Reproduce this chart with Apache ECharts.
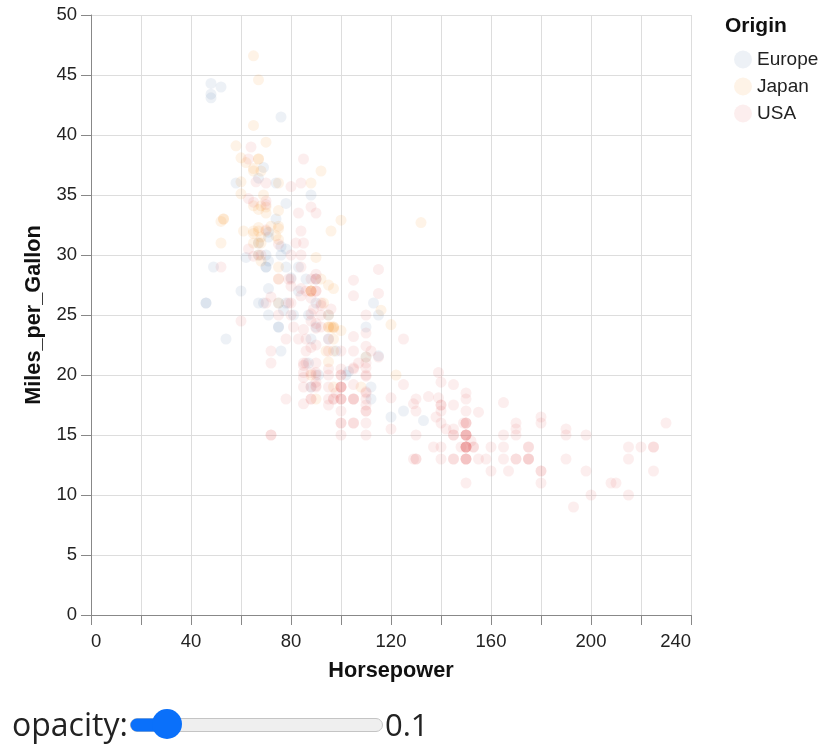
<!DOCTYPE html>
<html>
<head>
<meta charset="utf-8">
<script src="https://cdn.jsdelivr.net/npm/echarts@6/dist/echarts.min.js"></script>
<style>
  html, body { margin: 0; padding: 0; background: #fff; }
  #chart { width: 828px; height: 745px; }
</style>
</head>
<body>
<div id="chart"></div>
<script>
// [Horsepower, Miles_per_Gallon]
const europe = [
  [46,26],[87,25],[90,24],[95,25],[113,26],[90,28],[70,30],[76,30],[60,27],[54,23],
  [112,18],[76,22],[87,21],[69,26],[46,26],[90,26],[49,29],[75,24],[91,20],[112,19],
  [110,24],[83,29],[67,26],[78,26],[75,24],[75,26],[67,31],[71,25],[70,29],[95,23],
  [88,23],[98,22],[115,25],[86,28],[81,25],[83,27],[70,29],[71,29.5],[102,20],[88,19],
  [120,16.5],[58,36],[78,29],[78,30.5],[110,21.5],[48,43.1],[103,20.3],[125,17],[115,21.6],[133,16.2],
  [71,31.5],[71,31.9],[77,25.4],[71,27.2],[69,37.3],[76,41.5],[78,34.3],[48,44.3],[48,43.4],[67,36.4],
  [67,30],[62,29.8],[88,35],[74,33],[80,28.1],[76,30.7],[74,36],[52,44]
];
const japan = [
  [95,24],[88,27],[88,27],[95,25],[65,31],[69,35],[95,24],[97,19],[92,28],[97,23],
  [88,27],[88,20],[94,22],[90,18],[122,20],[67,31],[65,32],[52,31],[61,32],[97,24],
  [93,26],[75,29],[96,24],[97,24],[53,33],[53,33],[70,32],[75,28],[108,19],[68,31.5],
  [70,33.5],[75,26],[67,30],[97,22],[110,21.5],[52,32.8],[70,39.4],[60,36.1],[95,27.5],[97,27.2],
  [95,21.1],[97,23.9],[68,29.5],[65,34.1],[65,31.8],[60,38.1],[65,37.2],[90,29.8],[75,31.3],[92,37],
  [75,32.2],[65,46.6],[65,40.8],[67,44.6],[67,33.8],[132,32.7],[100,23.7],[72,32.4],[58,39.1],[60,35.1],
  [67,32.3],[65,37],[62,37.7],[68,34.1],[75,33.7],[75,32.4],[100,32.9],[74,31.6],[116,25.4],[120,24.2],
  [68,37],[68,31],[88,36],[75,36],[70,34],[67,38],[67,32],[67,38],[96,32]
];
const usa = [
  [130,18],[165,15],[150,18],[150,16],[140,17],[198,15],[220,14],[215,14],[225,14],[190,15],
  [170,15],[160,14],[150,15],[225,14],[95,22],[97,18],[85,21],[215,10],[200,10],[210,11],
  [193,9],[90,21],[90,28],[100,19],[105,16],[100,17],[88,19],[100,18],[165,14],[175,14],
  [153,14],[150,14],[180,12],[170,13],[175,13],[110,18],[72,22],[100,19],[88,18],[86,23],
  [70,26],[80,25],[90,20],[86,21],[165,13],[175,14],[150,15],[153,14],[150,17],[208,11],
  [155,13],[160,12],[190,13],[150,15],[130,13],[140,13],[150,14],[86,22],[80,28],[175,13],
  [150,14],[145,13],[137,14],[150,15],[198,12],[150,13],[158,13],[150,14],[215,13],[225,12],
  [175,13],[105,18],[100,16],[100,18],[88,18],[95,23],[150,11],[167,12],[170,13],[180,12],
  [100,18],[72,21],[85,19],[107,21],[145,15],[230,16],[150,15],[180,11],[95,20],[100,19],
  [100,15],[80,26],[75,25],[100,16],[110,16],[105,18],[140,16],[150,13],[150,14],[140,14],
  [150,14],[75,28],[95,19],[105,18],[72,15],[72,15],[170,16],[145,15],[150,16],[148,14],
  [110,17],[105,16],[110,15],[95,18],[110,21],[110,20],[129,13],[83,23],[100,20],[78,23],
  [97,18],[90,19],[92,25],[79,26],[140,17.5],[150,16],[120,15.5],[152,14.5],[100,22],[105,22],
  [81,24],[90,22.5],[52,29],[60,24.5],[100,20],[78,18],[110,18.5],[95,17.5],[72,26.5],[150,13],
  [180,16.5],[145,13],[130,13],[150,13],[80,30],[96,25.5],[145,17.5],[110,17],[145,15.5],[130,15],
  [110,17.5],[105,20.5],[100,19],[98,18.5],[180,16],[170,15.5],[190,15.5],[149,16],[88,24.5],[89,25.5],
  [63,30.5],[83,33.5],[66,36.1],[110,19.9],[140,19.4],[139,20.2],[105,19.2],[95,20.5],[85,20.2],[88,25.1],
  [100,20.5],[90,19.4],[105,20.6],[85,20.8],[110,18.6],[120,18.1],[145,19.2],[165,17.7],[139,18.1],[140,17.5],
  [68,30],[75,30.9],[105,23.2],[85,23.8],[115,21.5],[85,19.8],[88,22.3],[90,20.2],[110,20.6],[130,17],
  [129,17.6],[138,16.5],[135,18.2],[155,16.9],[142,15.5],[125,19.2],[150,18.5],[80,35.7],[80,27.4],[125,23],
  [90,23.9],[70,34.2],[70,34.5],[90,28.4],[115,28.8],[115,26.8],[90,33.5],[70,32.1],[90,28],[88,26.4],
  [90,24.3],[90,19.1],[105,27.9],[84,27.2],[84,26.6],[92,25.8],[110,23.5],[84,30],[64,39],[63,34.7],
  [65,34.4],[65,29.9],[110,22.4],[105,26.6],[88,20.2],[85,17.6],[88,28],[88,27],[88,34],[85,31],
  [84,29],[90,27],[92,24],[63,38],[70,36],[110,25],[85,38],[92,26],[112,22],[84,36],
  [90,27],[86,27],[84,32],[79,28],[82,31]
];
const origins = ['Europe', 'Japan', 'USA'];
const colors = ['#4c78a8', '#f58518', '#e45756'];
const seriesData = [europe, japan, usa];
const opacityValue = 0.1;

const chart = echarts.init(document.getElementById('chart'), null, { renderer: 'canvas' });
const FONT = 'Liberation Sans, Arial, Helvetica, sans-serif';

chart.setOption({
  animation: false,
  backgroundColor: '#fff',
  textStyle: { fontFamily: FONT },
  grid: { left: 91, top: 15, width: 600, height: 600, containLabel: false },
  xAxis: {
    type: 'value', min: 0, max: 240, interval: 20,
    name: 'Horsepower', nameLocation: 'middle', nameGap: 45,
    nameTextStyle: { fontFamily: FONT, fontSize: 21.7, fontWeight: 'bold', color: '#111' },
    axisLine: { show: true, onZero: false, lineStyle: { color: '#888', width: 1 } },
    axisTick: { show: true, length: 10, lineStyle: { color: '#888' } },
    axisLabel: {
      margin: 17, fontFamily: FONT, fontSize: 18.5, color: '#222',
      alignMinLabel: 'left', alignMaxLabel: 'right',
      formatter: v => (v % 40 === 0 ? String(v) : '')
    },
    splitLine: { show: true, lineStyle: { color: '#ddd', width: 1 } }
  },
  yAxis: {
    type: 'value', min: 0, max: 50, interval: 5,
    name: 'Miles_per_Gallon', nameLocation: 'middle', nameGap: 42,
    nameTextStyle: { fontFamily: FONT, fontSize: 21.7, fontWeight: 'bold', color: '#111' },
    axisLine: { show: true, onZero: false, lineStyle: { color: '#888', width: 1 } },
    axisTick: { show: true, length: 10, lineStyle: { color: '#888' } },
    axisLabel: { margin: 14, fontFamily: FONT, fontSize: 18.5, color: '#222' },
    splitLine: { show: true, lineStyle: { color: '#ddd', width: 1 } }
  },
  legend: {
    orient: 'vertical', left: 729, top: 45,
    itemWidth: 18, itemHeight: 18, itemGap: 8,
    icon: 'circle',
    data: origins,
    itemStyle: { opacity: opacityValue },
    textStyle: { fontFamily: FONT, fontSize: 19, color: '#222', padding: [0, 0, 0, 0] },
    selectedMode: false
  },
  graphic: [
    { type: 'text', left: 725, top: 16, style: { text: 'Origin', font: 'bold 21px ' + FONT, fill: '#111' } },
    { type: 'text', x: 12, y: 727, style: { text: 'opacity:', font: '32px Open Sans, sans-serif', fill: '#222', verticalAlign: 'middle' } },
    { type: 'rect', shape: { x: 130.5, y: 718.5, width: 252, height: 13, r: 6.5 }, style: { fill: '#efefef', stroke: '#c4c4c4', lineWidth: 1 } },
    { type: 'rect', shape: { x: 130.5, y: 718.5, width: 40, height: 13, r: 6.5 }, style: { fill: '#0a70fa' } },
    { type: 'circle', shape: { cx: 167, cy: 724, r: 15 }, style: { fill: '#0a70fa' } },
    { type: 'text', x: 385, y: 727, style: { text: String(opacityValue), font: '31px Open Sans, sans-serif', fill: '#222', verticalAlign: 'middle' } }
  ],
  series: seriesData.map((d, i) => ({
    name: origins[i],
    type: 'scatter',
    data: d,
    symbol: 'circle',
    symbolSize: 11,
    itemStyle: { color: colors[i], opacity: opacityValue },
    emphasis: { disabled: true }
  }))
});
</script>
</body>
</html>
